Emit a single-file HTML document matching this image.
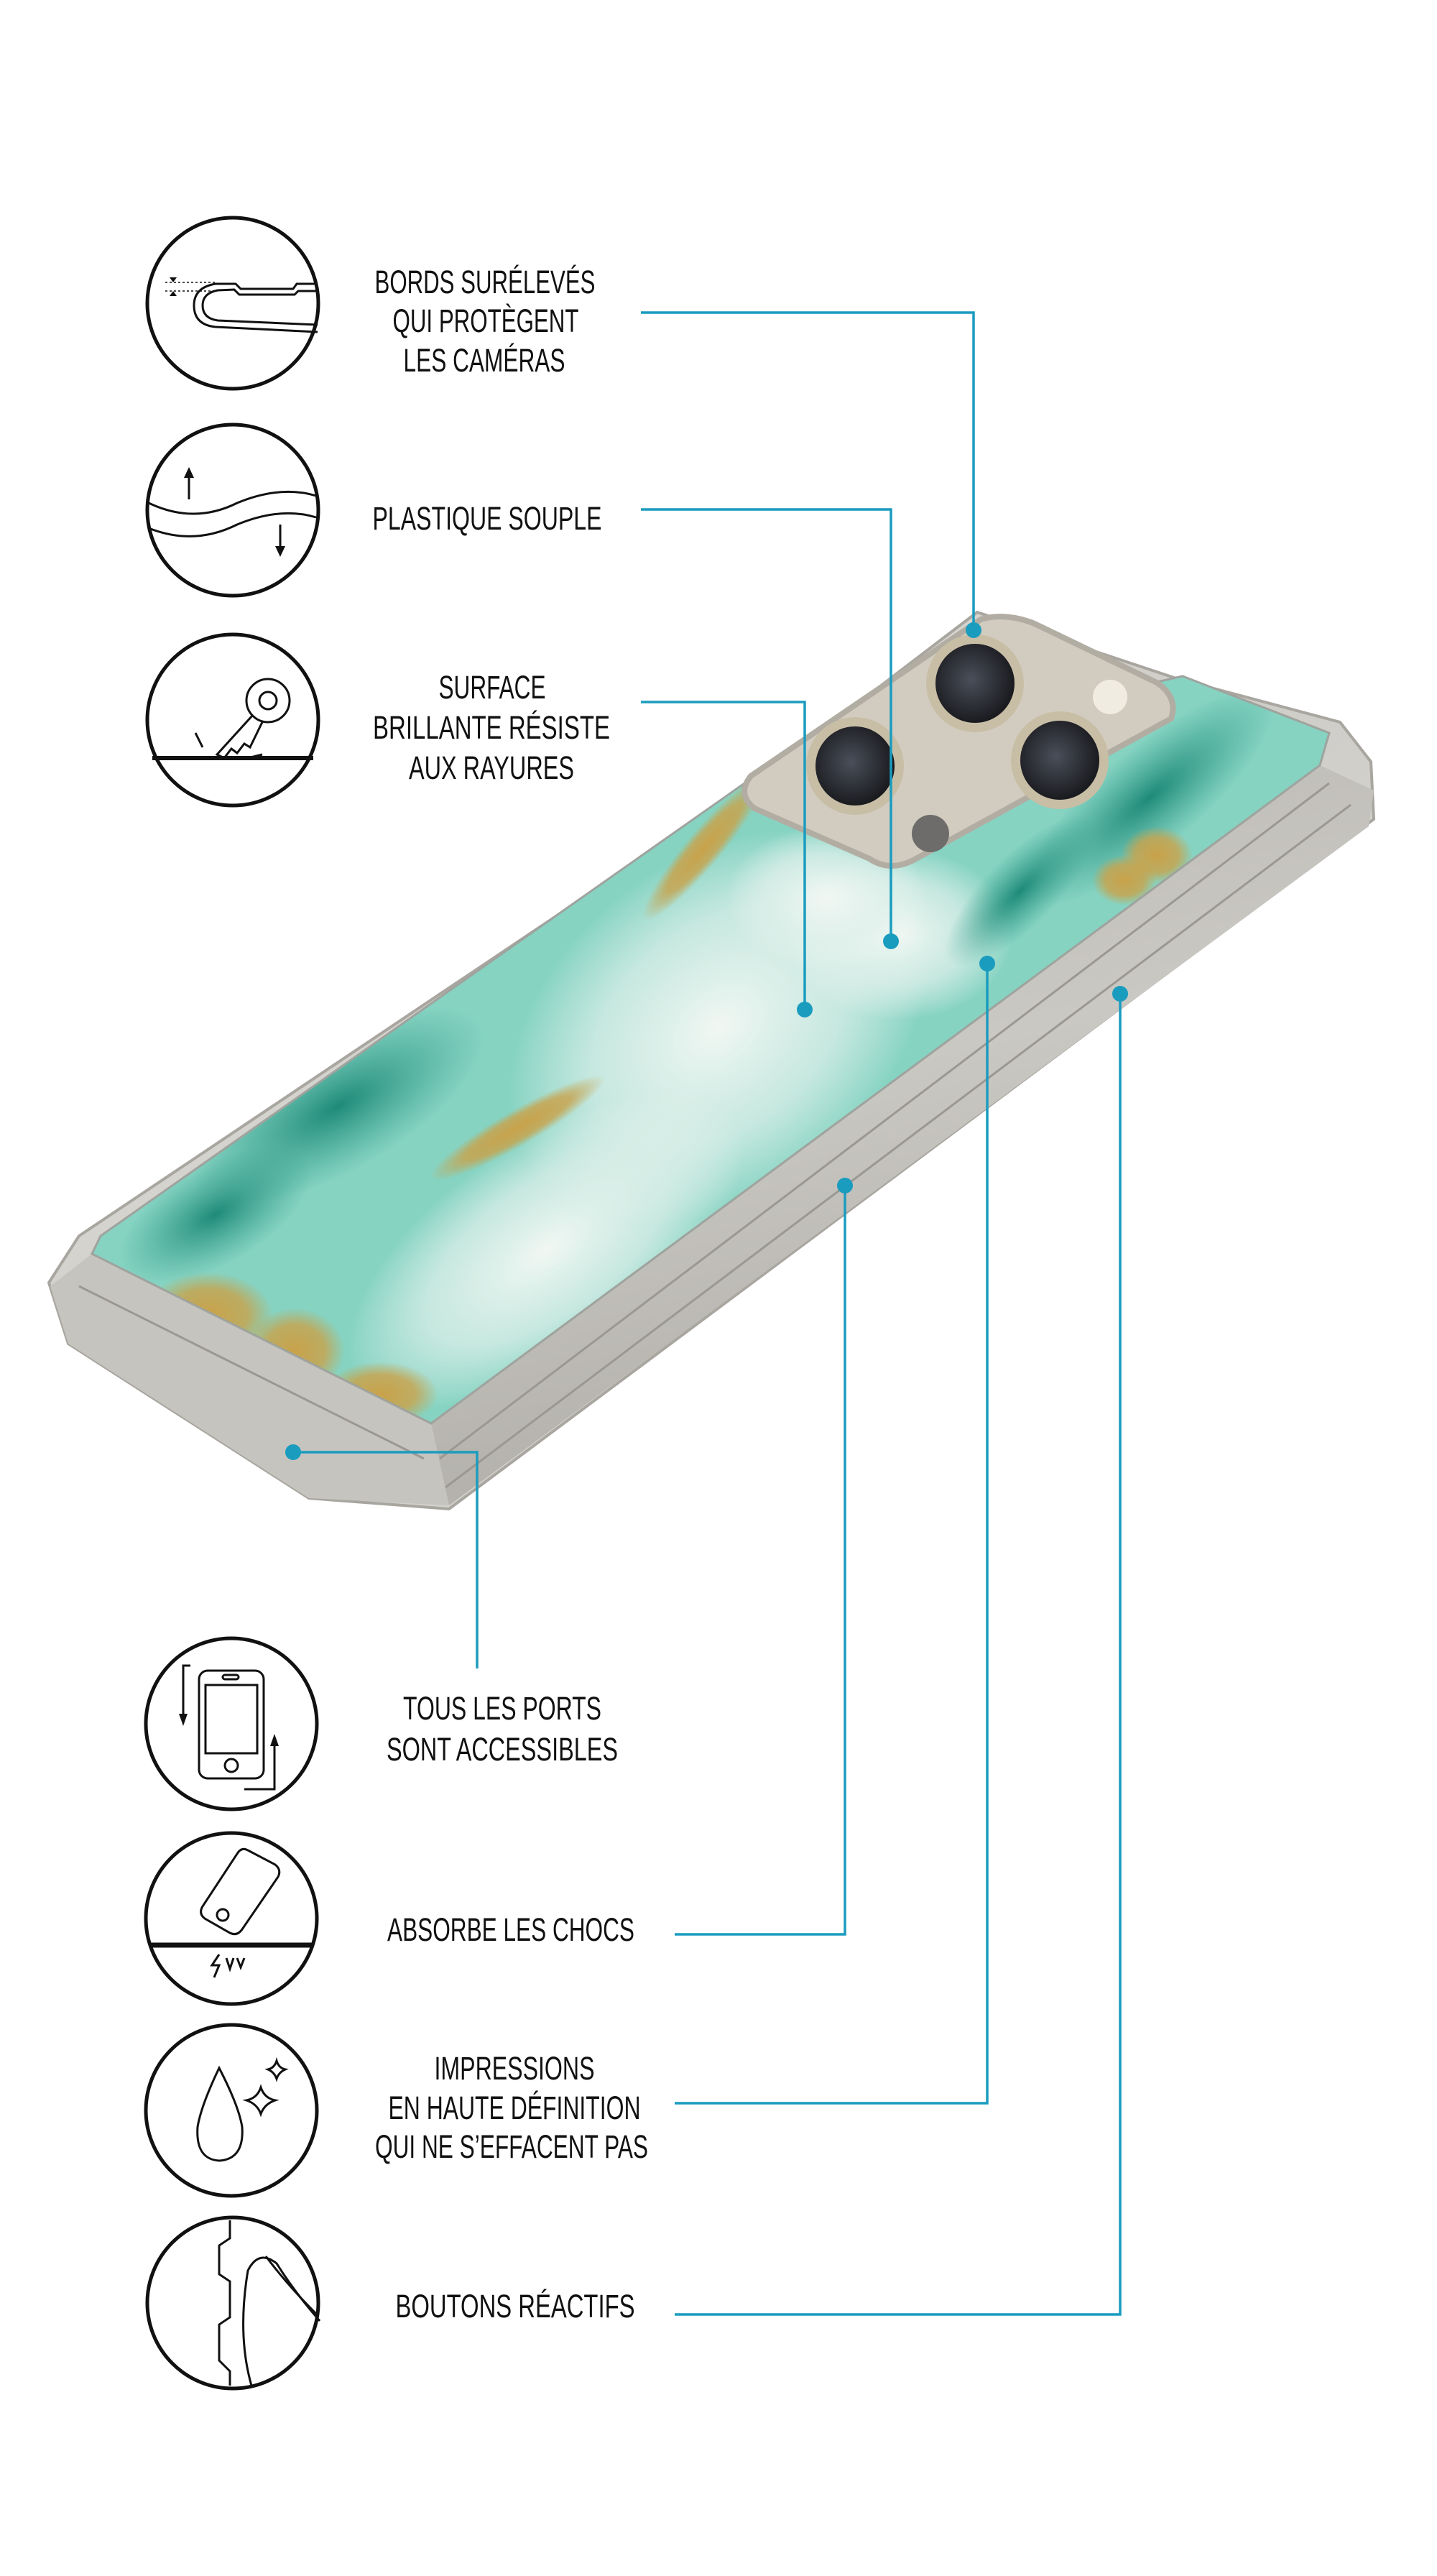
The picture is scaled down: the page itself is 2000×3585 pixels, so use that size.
<!DOCTYPE html>
<html><head><meta charset="utf-8">
<style>
html,body{margin:0;padding:0;background:#fff;}
svg{display:block;}
text{font-family:"Liberation Sans Narrow","Liberation Sans",sans-serif;font-size:45px;fill:#111;}
</style></head>
<body>
<svg width="2000" height="3585" viewBox="0 0 2000 3585" xmlns="http://www.w3.org/2000/svg">
<defs>
  <linearGradient id="caseg" x1="0" y1="0" x2="1" y2="1">
    <stop offset="0" stop-color="#e4e3e0"/>
    <stop offset="0.5" stop-color="#cfcdc8"/>
    <stop offset="1" stop-color="#dcdad6"/>
  </linearGradient>
  <linearGradient id="band" x1="0" y1="0" x2="0.3" y2="1">
    <stop offset="0" stop-color="#b9b6b0"/>
    <stop offset="0.5" stop-color="#cac8c3"/>
    <stop offset="1" stop-color="#b0ada7"/>
  </linearGradient>
  <radialGradient id="m1" cx="0.5" cy="0.5" r="0.5">
    <stop offset="0" stop-color="#f1f7f3"/>
    <stop offset="0.6" stop-color="#e2f1ec" stop-opacity="0.7"/>
    <stop offset="1" stop-color="#eef6f2" stop-opacity="0"/>
  </radialGradient>
  <radialGradient id="gold" cx="0.5" cy="0.5" r="0.5">
    <stop offset="0" stop-color="#c9a24a"/>
    <stop offset="0.6" stop-color="#c9a24a" stop-opacity="0.8"/>
    <stop offset="1" stop-color="#c9a24a" stop-opacity="0"/>
  </radialGradient>
  <radialGradient id="dk" cx="0.5" cy="0.5" r="0.5">
    <stop offset="0" stop-color="#1f8a78"/>
    <stop offset="1" stop-color="#2f9c8a" stop-opacity="0"/>
  </radialGradient>
  <radialGradient id="lens" cx="0.45" cy="0.45" r="0.55">
    <stop offset="0" stop-color="#4a4f5a"/>
    <stop offset="1" stop-color="#1a1b1f"/>
  </radialGradient>
  <clipPath id="mclip">
    <polygon points="1059,1074 1646,941 1850,1020 1837,1065 600,1981 128,1745 140,1720"/>
  </clipPath>
</defs>

<!-- Phone case -->
<polygon points="1035,1100 1360,852 1640,945 1865,1005 1908,1060 1912,1140 625,2100 430,2085 95,1870 68,1785 110,1720" fill="url(#caseg)" stroke="#a9a6a0" stroke-width="4"/>
<polygon points="1837,1065 1912,1100 1905,1150 625,2095 600,1981" fill="url(#band)"/>
<polygon points="128,1745 600,1981 625,2095 430,2085 95,1870 70,1790" fill="#c6c4bf"/>
<g stroke="#9b9892" stroke-width="3" fill="none">
  <line x1="1850" y1="1090" x2="612" y2="2030"/>
  <line x1="1880" y1="1120" x2="620" y2="2070"/>
  <line x1="110" y1="1790" x2="590" y2="2030"/>
</g>

<!-- Marble -->
<polygon points="1059,1074 1646,941 1850,1020 1837,1065 600,1981 128,1745 140,1720" fill="#86d3c2"/>
<g clip-path="url(#mclip)">
  <ellipse cx="1000" cy="1430" rx="330" ry="230" fill="url(#m1)" transform="rotate(-40 1000 1430)"/>
  <ellipse cx="760" cy="1740" rx="320" ry="150" fill="url(#m1)" transform="rotate(-35 760 1740)"/>
  <ellipse cx="1250" cy="1300" rx="160" ry="120" fill="url(#m1)"/>
  <ellipse cx="1150" cy="1250" rx="140" ry="100" fill="url(#m1)"/>
  <ellipse cx="470" cy="1540" rx="230" ry="90" fill="url(#dk)" transform="rotate(-30 470 1540)"/>
  <ellipse cx="300" cy="1690" rx="150" ry="70" fill="url(#dk)" transform="rotate(-30 300 1690)"/>
  <ellipse cx="1600" cy="1110" rx="220" ry="70" fill="url(#dk)" transform="rotate(-40 1600 1110)"/>
  <ellipse cx="1420" cy="1240" rx="140" ry="50" fill="url(#dk)" transform="rotate(-45 1420 1240)"/>
  <ellipse cx="1610" cy="1190" rx="50" ry="40" fill="url(#gold)"/>
  <ellipse cx="1565" cy="1225" rx="45" ry="35" fill="url(#gold)"/>
  <ellipse cx="290" cy="1830" rx="90" ry="60" fill="url(#gold)"/>
  <ellipse cx="410" cy="1880" rx="70" ry="60" fill="url(#gold)"/>
  <ellipse cx="530" cy="1940" rx="80" ry="45" fill="url(#gold)"/>
  <ellipse cx="980" cy="1180" rx="130" ry="25" fill="url(#gold)" transform="rotate(-50 980 1180)"/>
  <ellipse cx="720" cy="1570" rx="140" ry="25" fill="url(#gold)" transform="rotate(-30 720 1570)"/>
</g>
<polygon points="1059,1074 1646,941 1850,1020 1837,1065 600,1981 128,1745 140,1720" fill="none" stroke="#9fa39e" stroke-width="3"/>

<!-- Camera bump -->
<path d="M1365,862 Q1400,852 1440,868 L1610,950 Q1640,970 1630,1000 L1275,1195 Q1240,1215 1210,1195 L1050,1125 Q1025,1105 1045,1080 Z" fill="#d2ccc0" stroke="#b2ada3" stroke-width="8"/>
<circle cx="1357" cy="951" r="68" fill="#c8bea6"/><circle cx="1357" cy="951" r="55" fill="url(#lens)"/>
<circle cx="1475" cy="1058" r="68" fill="#c8bea6"/><circle cx="1475" cy="1058" r="55" fill="url(#lens)"/>
<circle cx="1190" cy="1066" r="68" fill="#c8bea6"/><circle cx="1190" cy="1066" r="55" fill="url(#lens)"/>
<circle cx="1545" cy="970" r="24" fill="#f1ece2"/>
<circle cx="1295" cy="1160" r="26" fill="#6d6c6a"/>

<!-- Connectors -->
<g stroke="#1a9cbf" stroke-width="3.5" fill="none">
  <polyline points="892,435 1355,435 1355,877"/>
  <polyline points="892,709 1240,709 1240,1310"/>
  <polyline points="892,977 1120,977 1120,1405"/>
  <polyline points="408,2021 664,2021 664,2322"/>
  <polyline points="939,2692 1176,2692 1176,1650"/>
  <polyline points="939,2927 1374,2927 1374,1341"/>
  <polyline points="939,3221 1559,3221 1559,1383"/>
</g>
<g fill="#1a9cbf">
  <circle cx="1355" cy="877" r="11"/>
  <circle cx="1240" cy="1310" r="11"/>
  <circle cx="1120" cy="1405" r="11"/>
  <circle cx="408" cy="2021" r="11"/>
  <circle cx="1176" cy="1650" r="11"/>
  <circle cx="1374" cy="1341" r="11"/>
  <circle cx="1559" cy="1383" r="11"/>
</g>

<!-- Icon circles -->
<g fill="none" stroke="#111" stroke-width="5">
  <circle cx="324" cy="422" r="119"/>
  <circle cx="324" cy="710" r="119"/>
  <circle cx="324" cy="1002" r="119"/>
  <circle cx="322" cy="2399" r="119"/>
  <circle cx="322" cy="2670" r="119"/>
  <circle cx="322" cy="2937" r="119"/>
  <circle cx="324" cy="3205" r="119"/>
</g>
<g fill="none" stroke="#111" stroke-width="3">
  <path d="M440,395 L413,395 L408,402 L335,402 L328,395 L300,395 Q270,400 270,425 Q270,452 300,455 L442,462"/>
  <path d="M440,405 L415,405 L410,410 L333,410 L326,403 L303,404 Q282,408 282,425 Q282,443 303,446 L442,452"/>
  <line x1="230" y1="393" x2="300" y2="393" stroke-width="1.5" stroke-dasharray="3 3"/>
  <line x1="230" y1="405" x2="300" y2="405" stroke-width="1.5" stroke-dasharray="3 3"/>
  <path d="M207,700 Q270,730 330,700 Q390,675 440,690"/>
  <path d="M207,735 Q270,760 330,730 Q390,705 440,720"/>
  <line x1="263" y1="695" x2="263" y2="660"/>
  <line x1="390" y1="730" x2="390" y2="765"/>
  <line x1="212" y1="1055" x2="436" y2="1055" stroke-width="6"/>
  <circle cx="373" cy="975" r="30"/><circle cx="373" cy="975" r="12"/>
  <path d="M352,995 L302,1050 L312,1055 L322,1042 L330,1048 L340,1035 L348,1040 L365,1005"/>
  <line x1="272" y1="1020" x2="282" y2="1040"/>
  <line x1="345" y1="1055" x2="365" y2="1050"/>
  <rect x="277" y="2325" width="90" height="150" rx="12"/>
  <rect x="286" y="2345" width="72" height="95"/>
  <circle cx="322" cy="2457" r="9"/>
  <rect x="310" y="2331" width="22" height="6" rx="3"/>
  <polyline points="265,2318 255,2318 255,2390"/>
  <polyline points="340,2490 382,2490 382,2425"/>
  <line x1="210" y1="2707" x2="434" y2="2707" stroke-width="7"/>
  <path d="M345,2575 L383,2595 Q392,2602 387,2612 L337,2685 Q330,2695 320,2690 L285,2670 Q276,2663 282,2653 L330,2580 Q336,2570 345,2575 Z"/>
  <circle cx="310" cy="2665" r="8"/>
  <path d="M305,2720 L295,2735 L305,2735 L298,2752 M315,2725 L320,2740 L325,2725 M330,2725 L335,2738 L340,2725"/>
  <path d="M305,2878 Q280,2930 275,2960 Q272,3005 305,3007 Q340,3005 337,2960 Q332,2930 305,2878 Z"/>
  <path d="M363,2905 Q368,2920 383,2923 Q368,2928 363,2942 Q358,2928 343,2923 Q358,2920 363,2905 Z"/>
  <path d="M385,2868 Q388,2878 397,2880 Q388,2884 385,2893 Q382,2884 373,2880 Q382,2878 385,2868 Z"/>
  <path d="M320,3090 L320,3115 L305,3125 L305,3165 L320,3175 L320,3225 L305,3235 L305,3285 L320,3300 L320,3320"/>
  <path d="M350,3320 Q330,3250 345,3160 Q360,3130 385,3150 Q410,3190 445,3230"/>
  <path d="M370,3140 Q400,3180 440,3220"/>
</g>
<g fill="#111">
  <polygon points="263,650 256,665 270,665"/>
  <polygon points="390,775 383,760 397,760"/>
  <polygon points="255,2402 249,2385 261,2385"/>
  <polygon points="382,2413 376,2430 388,2430"/>
  <polygon points="236,386 246,386 241,393"/>
  <polygon points="236,412 246,412 241,405"/>
</g>

<!-- Labels -->
<g text-anchor="middle">
  <text x="675" y="408" textLength="307" lengthAdjust="spacingAndGlyphs">BORDS SURÉLEVÉS</text>
  <text x="676" y="462" textLength="259" lengthAdjust="spacingAndGlyphs">QUI PROTÈGENT</text>
  <text x="674" y="517" textLength="225" lengthAdjust="spacingAndGlyphs">LES CAMÉRAS</text>
  <text x="678" y="737" textLength="319" lengthAdjust="spacingAndGlyphs">PLASTIQUE SOUPLE</text>
  <text x="685" y="972" textLength="149" lengthAdjust="spacingAndGlyphs">SURFACE</text>
  <text x="684" y="1028" textLength="330" lengthAdjust="spacingAndGlyphs">BRILLANTE RÉSISTE</text>
  <text x="684" y="1084" textLength="230" lengthAdjust="spacingAndGlyphs">AUX RAYURES</text>
  <text x="699" y="2393" textLength="276" lengthAdjust="spacingAndGlyphs">TOUS LES PORTS</text>
  <text x="699" y="2450" textLength="322" lengthAdjust="spacingAndGlyphs">SONT ACCESSIBLES</text>
  <text x="711" y="2701" textLength="344" lengthAdjust="spacingAndGlyphs">ABSORBE LES CHOCS</text>
  <text x="716" y="2894" textLength="223" lengthAdjust="spacingAndGlyphs">IMPRESSIONS</text>
  <text x="716" y="2949" textLength="351" lengthAdjust="spacingAndGlyphs">EN HAUTE DÉFINITION</text>
  <text x="712" y="3003" textLength="380" lengthAdjust="spacingAndGlyphs">QUI NE S’EFFACENT PAS</text>
  <text x="717" y="3225" textLength="333" lengthAdjust="spacingAndGlyphs">BOUTONS RÉACTIFS</text>
</g>
</svg>
</body></html>
